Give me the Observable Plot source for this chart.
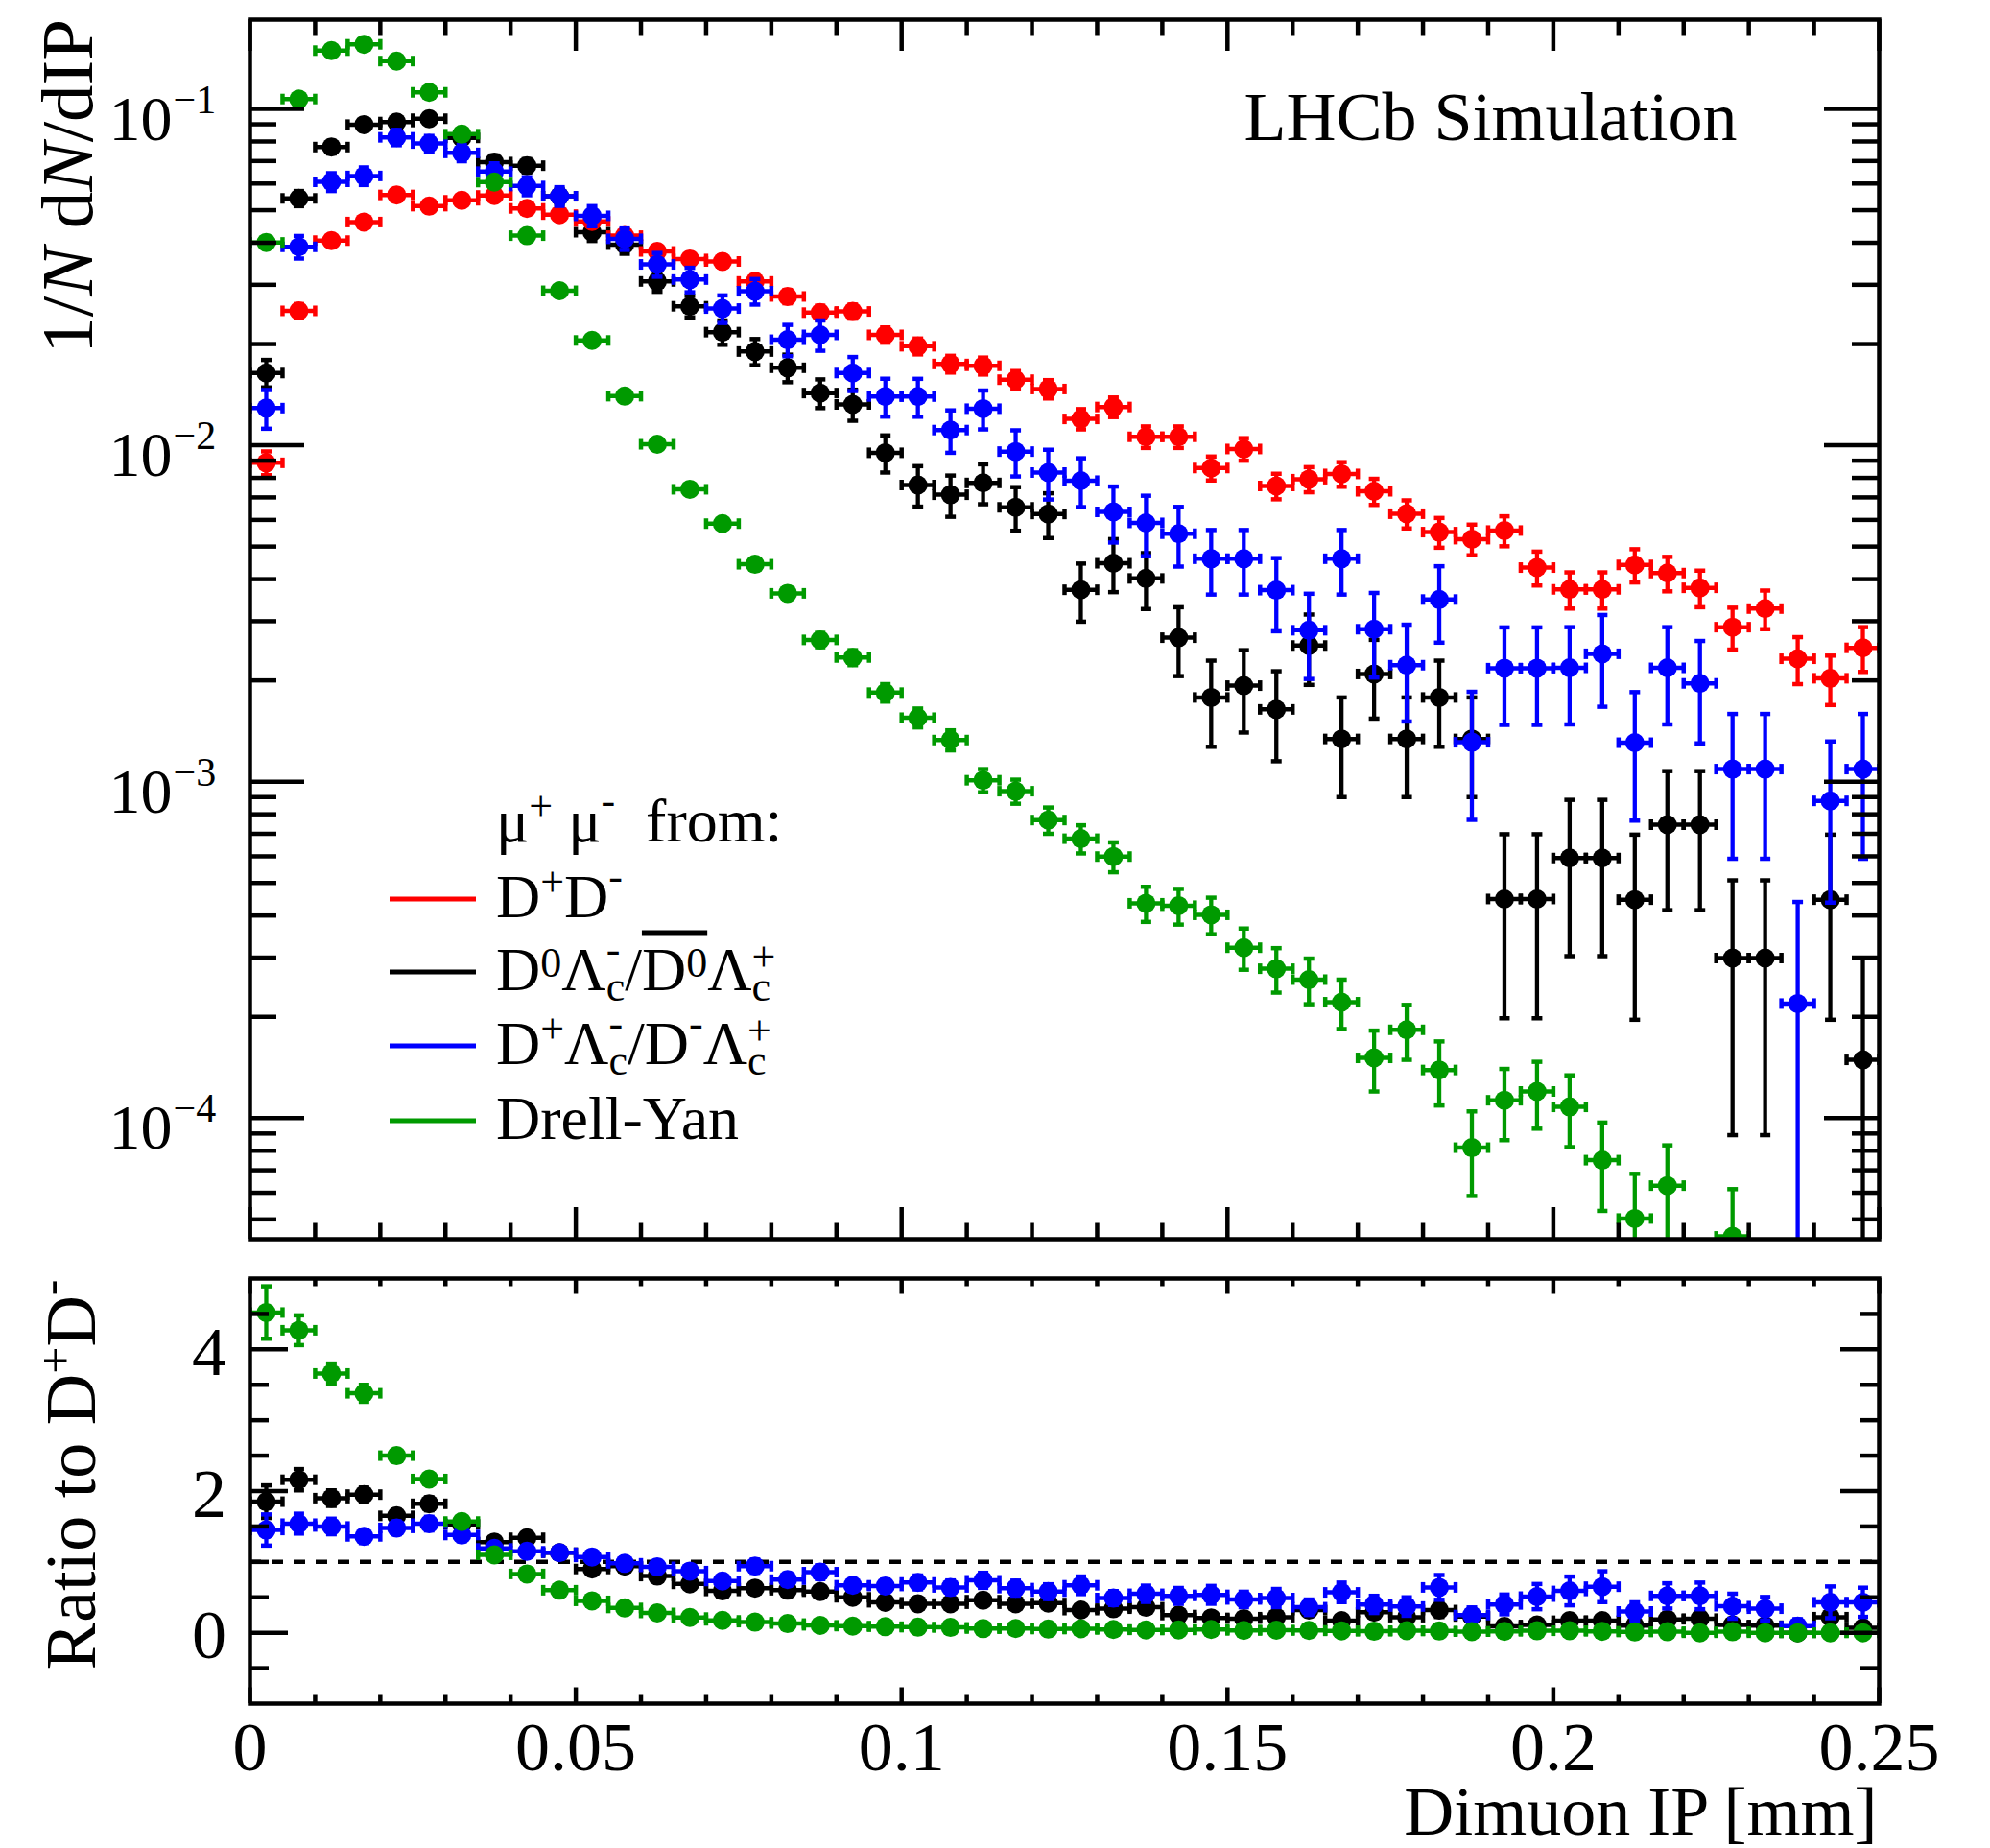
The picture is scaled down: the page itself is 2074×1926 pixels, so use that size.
<!DOCTYPE html>
<html>
<head>
<meta charset="utf-8">
<script src="https://cdn.jsdelivr.net/npm/d3@7"></script>
<script src="https://cdn.jsdelivr.net/npm/@observablehq/plot@0.6"></script>
<style>
html, body { margin: 0; padding: 0; background: #fff; }
#fig { position: relative; width: 2074px; height: 1926px; background: #fff; font-family: "Liberation Serif", "Times New Roman", serif; }
#fig svg { position: absolute; left: 0; overflow: visible; }
</style>
</head>
<body>
<div id="fig"></div>
<script>
// ---------------- DATA ----------------
const binWidth = 0.005;
const binCenters = [0.0025,0.0075,0.0125,0.0175,0.0225,0.0275,0.0325,0.0375,0.0425,0.0475,
  0.0525,0.0575,0.0625,0.0675,0.0725,0.0775,0.0825,0.0875,0.0925,0.0975,
  0.1025,0.1075,0.1125,0.1175,0.1225,0.1275,0.1325,0.1375,0.1425,0.1475,
  0.1525,0.1575,0.1625,0.1675,0.1725,0.1775,0.1825,0.1875,0.1925,0.1975,
  0.2025,0.2075,0.2125,0.2175,0.2225,0.2275,0.2325,0.2375,0.2425,0.2475];

// D+D- (red)
const ddVals = [0.00887,0.0251,0.0406,0.0461,0.0555,0.0514,0.0535,0.0553,0.0506,0.0485,
  0.0463,0.0420,0.0377,0.0358,0.0352,0.0307,0.0277,0.0248,0.0250,0.0213,
  0.0197,0.01745,0.01723,0.01567,0.0147,0.01198,0.0130,0.0106,0.0106,0.00856,
  0.00975,0.00757,0.00793,0.00822,0.0073,0.00626,0.00552,0.00526,0.00558,0.00433,
  0.00373,0.00373,0.00441,0.00417,0.00377,0.00288,0.00327,0.00232,0.00203,0.0025];
const ddErr = [0.00072,0.0012,0.00153,0.00163,0.00179,0.00172,0.00176,0.00179,0.00171,0.00167,
  0.00164,0.00156,0.00148,0.00144,0.00143,0.00133,0.00126,0.0012,0.0012,0.00111,
  0.00107,0.001,0.001,0.00095,0.00092,0.00083,0.00087,0.00078,0.00078,0.0007,
  0.00075,0.00066,0.00068,0.00069,0.00065,0.0006,0.00056,0.00055,0.00057,0.0005,
  0.00046,0.00046,0.0005,0.00049,0.00047,0.00041,0.00043,0.00037,0.00034,0.00038];

// D0 Lc / D0bar Lc (black)
const d0LcVals = [0.0164,0.0542,0.0770,0.0898,0.0914,0.0935,0.0820,0.0695,0.0678,0.0550,
  0.0430,0.0395,0.0307,0.0259,0.0217,0.0190,0.0170,0.0143,0.01323,0.0095,
  0.00762,0.00713,0.00773,0.00654,0.00625,0.00372,0.00446,0.00402,0.00268,0.00178,
  0.00193,0.00164,0.00254,0.00134,0.00209,0.00134,0.00178,0.00134,0.000448,0.000448,
  0.000593,0.000593,0.000446,0.000745,0.000745,0.000299,0.000299,0,0.000446,0.000149];
const d0LcErr = [0.00154,0.0028,0.0033,0.0036,0.0036,0.0037,0.0034,0.0032,0.0031,0.0028,
  0.0025,0.0024,0.0021,0.0019,0.0018,0.0017,0.0016,0.0014,0.0014,0.0012,
  0.00105,0.001,0.00105,0.00097,0.00095,0.00073,0.0008,0.00076,0.00062,0.00051,
  0.00053,0.00049,0.0006,0.00044,0.00055,0.00044,0.00051,0.00044,0.00025,0.00025,
  0.00029,0.00029,0.00025,0.00033,0.00033,0.00021,0.00021,0,0.00025,0.00015];

// D+ Lc / D- Lc (blue)
const dpLcVals = [0.0129,0.0389,0.0607,0.0632,0.0823,0.0789,0.0740,0.0651,0.0590,0.0550,
  0.0481,0.0411,0.0345,0.0311,0.0255,0.0287,0.0206,0.0213,0.0164,0.01397,
  0.01396,0.0111,0.01285,0.00958,0.0083,0.00785,0.00634,0.00588,0.00546,0.0046,
  0.0046,0.00371,0.00282,0.0046,0.00284,0.00222,0.00348,0.00131,0.002175,0.002175,
  0.00218,0.0024,0.001306,0.00218,0.00196,0.00109,0.00109,0.000219,0.000877,0.00109];
const dpLcErr = [0.0017,0.003,0.0037,0.0038,0.0043,0.0042,0.0041,0.0038,0.0036,0.0035,
  0.0033,0.003,0.0028,0.0026,0.0024,0.0025,0.0022,0.0022,0.0019,0.0018,
  0.0018,0.0016,0.0017,0.0015,0.0014,0.0013,0.0012,0.0012,0.0011,0.001,
  0.001,0.00091,0.0008,0.001,0.0008,0.00071,0.00089,0.00054,0.0007,0.0007,
  0.0007,0.00073,0.00054,0.0007,0.00066,0.0005,0.0005,0.00022,0.00044,0.0005];

// Drell-Yan (green)
const dyVals = [0.0401,0.107,0.149,0.1556,0.1387,0.112,0.0841,0.0606,0.0420,0.0288,
  0.0205,0.0140,0.01007,0.0074,0.00585,0.00443,0.00363,0.00264,0.00234,0.00184,
  0.00155,0.00133,0.00101,0.000937,0.000769,0.000677,0.000599,0.000435,0.000428,0.000402,
  0.000321,0.000278,0.000258,0.000221,0.000151,0.000183,0.000139,0.0000817,0.000113,0.000120,
  0.000108,0.000075,0.0000503,0.000063,0,0.0000445,0,0,0,0];
const dyErr = [0.0005,0.00082,0.00097,0.00099,0.00093,0.00084,0.00073,0.00062,0.00051,0.00042,
  0.00036,0.0003,0.00025,0.00022,0.00019,0.00017,0.00015,0.00013,0.00012,0.00011,
  0.0001,0.000091,0.00008,0.000077,0.000069,0.000065,0.000061,0.000052,0.000052,0.00005,
  0.000045,0.000042,0.00004,0.000037,0.000031,0.000034,0.00003,0.000023,0.000027,0.000027,
  0.000026,0.000022,0.000018,0.00002,0,0.000017,0,0,0,0];

// Ratio to D+D- (bottom panel)
const ratioD0Lc = [1.85,2.16,1.90,1.95,1.65,1.82,1.53,1.28,1.34,1.13,
  0.90,0.94,0.80,0.69,0.59,0.63,0.60,0.58,0.50,0.43,
  0.41,0.41,0.46,0.41,0.42,0.32,0.34,0.36,0.25,0.21,
  0.20,0.22,0.32,0.17,0.29,0.22,0.32,0.23,0.09,0.11,
  0.17,0.17,0.10,0.19,0.20,0.11,0.10,0,0.22,0.07];
const ratioD0LcErr = [0.23,0.15,0.11,0.10,0.085,0.092,0.081,0.072,0.077,0.069,
  0.06,0.067,0.062,0.06,0.055,0.059,0.062,0.064,0.061,0.06,
  0.059,0.063,0.067,0.067,0.07,0.065,0.066,0.077,0.062,0.062,
  0.056,0.067,0.081,0.055,0.08,0.073,0.097,0.088,0.046,0.06,
  0.081,0.081,0.058,0.082,0.09,0.074,0.064,0,0.13,0.059];
const ratioDpLc = [1.45,1.54,1.50,1.36,1.48,1.54,1.38,1.19,1.15,1.13,
  1.07,0.98,0.93,0.87,0.73,0.94,0.75,0.855,0.67,0.66,
  0.71,0.64,0.74,0.63,0.58,0.67,0.49,0.55,0.52,0.535,
  0.47,0.49,0.36,0.57,0.40,0.37,0.64,0.25,0.40,0.51,
  0.59,0.65,0.30,0.52,0.52,0.375,0.34,0.095,0.43,0.43];
const ratioDpLcErr = [0.22,0.14,0.11,0.095,0.09,0.096,0.088,0.079,0.082,0.082,
  0.082,0.081,0.084,0.082,0.076,0.093,0.086,0.097,0.085,0.091,
  0.098,0.098,0.106,0.106,0.104,0.124,0.098,0.115,0.112,0.126,
  0.109,0.128,0.109,0.138,0.121,0.13,0.175,0.107,0.139,0.178,
  0.203,0.218,0.129,0.178,0.188,0.176,0.165,0.097,0.224,0.206];
const ratioDY = [4.52,4.27,3.66,3.38,2.50,2.17,1.57,1.10,0.83,0.60,
  0.45,0.35,0.28,0.215,0.175,0.15,0.13,0.105,0.094,0.086,
  0.079,0.076,0.059,0.06,0.052,0.057,0.046,0.041,0.040,0.047,
  0.033,0.037,0.033,0.027,0.021,0.029,0.025,0.016,0.020,0.028,
  0.029,0.020,0.011,0.015,0,0.015,0,0,0,0];
const ratioDYErr = [0.37,0.21,0.14,0.12,0.081,0.074,0.053,0.036,0.029,0.022,
  0.017,0.014,0.012,0.01,0.009,0.01,0.01,0.01,0.01,0.01,
  0.01,0.01,0.01,0.01,0.01,0.01,0.01,0.01,0.01,0.01,
  0.008,0.008,0.008,0.008,0.008,0.008,0.008,0.008,0.008,0.008,
  0.008,0.008,0.008,0.008,0,0.006,0,0,0,0];

// Axis ticks / labels
const xTickValues = [0, 0.05, 0.1, 0.15, 0.2, 0.25];
const xTickLabels = ["0", "0.05", "0.1", "0.15", "0.2", "0.25"];
const yDecades = [1e-1, 1e-2, 1e-3, 1e-4];
const yDecadeExps = ["\u22121", "\u22122", "\u22123", "\u22124"];
const ratioTickValues = [0, 2, 4];
const ratioTickLabels = ["0", "2", "4"];
const xTitle = "Dimuon IP [mm]";
const lhcbLabel = "LHCb Simulation";

// ---------------- STYLE / LAYOUT ----------------
const FONT = "Liberation Serif";
const C = { red: "#ff0000", black: "#000000", blue: "#0000ff", green: "#009a00" };
const W = 2074;
const mL = 260, mR = 116;
const frameW = W - mL - mR;
const topH = 1300, topMT = 20, topMB = 9;
const topFrameH = topH - topMT - topMB;
const botTop = 1300, botH = 626, botMT = 32, botMB = 151;
const botFrameH = botH - botMT - botMB;
const yMin = 4.365e-5, yMax = 0.1842;

const vCap = { draw(ctx, size) { const r = Math.sqrt(size / Math.PI); ctx.moveTo(0, -r); ctx.lineTo(0, r); } };
const hCap = { draw(ctx, size) { const r = Math.sqrt(size / Math.PI); ctx.moveTo(-r, 0); ctx.lineTo(r, 0); } };

function rowsOf(vals, errs, keepZero) {
  return binCenters.map((x, i) => ({ x, v: vals[i], e: errs[i] })).filter(d => keepZero ? true : d.v > 0);
}

function seriesMarks(rows, color, isLog) {
  const half = binWidth / 2;
  const low = d => isLog ? (d.v - d.e > 0 ? d.v - d.e : yMin * 0.1) : d.v - d.e;
  const withErr = rows.filter(d => d.e > 0);
  const capStyle = { stroke: color, strokeWidth: 4.5, fill: "none", clip: true };
  return [
    Plot.ruleY(rows, { y: "v", x1: d => d.x - half, x2: d => d.x + half, stroke: color, strokeWidth: 4.5, clip: true }),
    Plot.dot(rows, { x: d => d.x - half, y: "v", symbol: vCap, r: 5.5, ...capStyle }),
    Plot.dot(rows, { x: d => d.x + half, y: "v", symbol: vCap, r: 5.5, ...capStyle }),
    Plot.ruleX(withErr, { x: "x", y1: low, y2: d => d.v + d.e, stroke: color, strokeWidth: 4.3, clip: true }),
    Plot.dot(withErr.filter(d => !isLog || d.v - d.e > 0), { x: "x", y: d => d.v - d.e, symbol: hCap, r: 5.5, ...capStyle }),
    Plot.dot(withErr, { x: "x", y: d => d.v + d.e, symbol: hCap, r: 5.5, ...capStyle }),
    Plot.dot(rows, { x: "x", y: "v", r: 10, fill: color, clip: true })
  ];
}

const isMajorX = v => Math.abs(v * 20 - Math.round(v * 20)) < 1e-9;
const xMinor = d3.range(0, 0.2501, 0.01).filter(v => !isMajorX(v));
const yMinorTop = [];
for (let e = -5; e <= -1; e++) for (let k = 2; k <= 9; k++) { const v = k * Math.pow(10, e); if (v > yMin && v < yMax) yMinorTop.push(v); }
const ratioMinor = [-0.5, 0.5, 1, 1.5, 2.5, 3, 3.5, 4.5];

function frameTicks(H, xMajLen, xMinLen, yMaj, yMajLen, yMin_, yMinLen) {
  const s = { stroke: "black", strokeWidth: 4.5 };
  return [
    Plot.tickX(xTickValues, { x: d => d, insetTop: H - xMajLen, ...s }),
    Plot.tickX(xTickValues, { x: d => d, insetBottom: H - xMajLen, ...s }),
    Plot.tickX(xMinor, { x: d => d, insetTop: H - xMinLen, ...s }),
    Plot.tickX(xMinor, { x: d => d, insetBottom: H - xMinLen, ...s }),
    Plot.tickY(yMaj, { y: d => d, insetRight: frameW - yMajLen, ...s }),
    Plot.tickY(yMaj, { y: d => d, insetLeft: frameW - yMajLen, ...s }),
    Plot.tickY(yMin_, { y: d => d, insetRight: frameW - yMinLen, ...s }),
    Plot.tickY(yMin_, { y: d => d, insetLeft: frameW - yMinLen, ...s })
  ];
}

// ---------------- TOP PANEL ----------------
const topSeries = [
  rowsOf(d0LcVals, d0LcErr), rowsOf(ddVals, ddErr), rowsOf(dpLcVals, dpLcErr), rowsOf(dyVals, dyErr)
];
const topColors = [C.black, C.red, C.blue, C.green];

const topPlot = Plot.plot({
  width: W, height: topH,
  marginLeft: mL, marginRight: mR, marginTop: topMT, marginBottom: topMB,
  style: { fontFamily: FONT, background: "white", overflow: "visible" },
  x: { domain: [0, 0.25], axis: null },
  y: { type: "log", domain: [yMin, yMax], axis: null },
  marks: [
    ...topSeries.flatMap((rows, i) => seriesMarks(rows, topColors[i], true)),
    ...frameTicks(topFrameH, 33, 16.5, yDecades, 57, yMinorTop, 28),
    Plot.text(yDecades, { y: d => d, frameAnchor: "left", text: () => "10", textAnchor: "end", lineAnchor: "bottom", dx: -81, dy: 32, fontSize: 66 }),
    Plot.text(yDecades, { y: d => d, frameAnchor: "left", text: (d, i) => yDecadeExps[i], textAnchor: "start", lineAnchor: "bottom", dx: -80, dy: 4, fontSize: 42 }),
    Plot.text([lhcbLabel], { frameAnchor: "top-right", text: d => d, textAnchor: "end", lineAnchor: "bottom", dx: -148, dy: 125, fontSize: 72 }),
    Plot.frame({ stroke: "black", strokeWidth: 4.5 })
  ]
});

// ---------------- BOTTOM PANEL ----------------
const botSeries = [
  rowsOf(ratioD0Lc, ratioD0LcErr, true), rowsOf(ratioDpLc, ratioDpLcErr, true), rowsOf(ratioDY, ratioDYErr, true)
];
const botColors = [C.black, C.blue, C.green];

const botPlot = Plot.plot({
  width: W, height: botH,
  marginLeft: mL, marginRight: mR, marginTop: botMT, marginBottom: botMB,
  style: { fontFamily: FONT, background: "transparent", overflow: "visible" },
  x: { domain: [0, 0.25], axis: null },
  y: { domain: [-1, 5], axis: null },
  marks: [
    Plot.ruleY([1], { stroke: "black", strokeWidth: 4.5, strokeDasharray: "12,11" }),
    ...botSeries.flatMap((rows, i) => seriesMarks(rows, botColors[i], false)),
    ...frameTicks(botFrameH, 16.5, 8.5, ratioTickValues, 40, ratioMinor, 20),
    Plot.text(ratioTickValues, { y: d => d, frameAnchor: "left", text: (d, i) => ratioTickLabels[i], textAnchor: "end", lineAnchor: "bottom", dx: -24.5, dy: 26.5, fontSize: 72 }),
    Plot.text(xTickValues, { x: d => d, frameAnchor: "bottom", text: (d, i) => xTickLabels[i], lineAnchor: "bottom", dy: 69.6, fontSize: 72 }),
    Plot.text([xTitle], { frameAnchor: "bottom-right", text: d => d, textAnchor: "end", lineAnchor: "bottom", dx: -2, dy: 136, fontSize: 72 }),
    Plot.frame({ stroke: "black", strokeWidth: 4.5 })
  ]
});

const fig = document.getElementById("fig");
topPlot.style.top = "0px";
botPlot.style.top = botTop + "px";
fig.appendChild(topPlot);
fig.appendChild(botPlot);

// ---------------- RICH TEXT (titles, legend) ----------------
const svgTop = d3.select(topPlot);
const svgBot = d3.select(botPlot);

// Top y-axis title
{
  const t = svgTop.append("text")
    .attr("transform", "translate(96,20) rotate(-90)")
    .attr("text-anchor", "end").attr("font-size", 77).attr("font-family", FONT)
    .style("white-space", "pre").attr("fill", "black");
  t.append("tspan").text("1/");
  t.append("tspan").attr("font-style", "italic").text("N");
  t.append("tspan").text(" d");
  t.append("tspan").attr("font-style", "italic").text("N");
  t.append("tspan").text("/dIP");
}
// Bottom y-axis title
{
  const t = svgBot.append("text")
    .attr("transform", `translate(99,${1333.5 - botTop}) rotate(-90)`)
    .attr("text-anchor", "end").attr("font-size", 74).attr("font-family", FONT)
    .style("white-space", "pre").attr("fill", "black");
  t.append("tspan").text("Ratio to D");
  t.append("tspan").attr("font-size", 50).attr("dy", -24).text("+");
  t.append("tspan").attr("dy", 24).text("D");
  t.append("tspan").attr("font-size", 50).attr("dy", -30).text("-");
}

function richText(g, x, y, parts, baseSize) {
  let cx = x, prevX = x, prevW = 0;
  const pos = [];
  for (const p of parts) {
    const sx = p.stack ? prevX : cx;
    const t = g.append("text")
      .attr("x", sx).attr("y", y + (p.dy || 0))
      .attr("text-anchor", "start")
      .attr("font-size", p.size || baseSize).attr("font-family", FONT)
      .style("white-space", "pre").attr("fill", "black").text(p.t);
    const w = t.node().getComputedTextLength();
    pos.push({ x0: sx, x1: sx + w });
    if (p.stack) { prevW = Math.max(prevW, w); cx = prevX + prevW; }
    else { prevX = sx; prevW = w; cx = sx + w; }
  }
  return pos;
}

const lg = svgTop.append("g").attr("text-anchor", "start");
const LX = 517, S = 64, s = 44;
richText(lg, LX, 877, [
  { t: "\u03bc" }, { t: "+", size: s, dy: -22 }, { t: " \u03bc" }, { t: "-", size: s, dy: -28 }, { t: "  from:" }
], S);

const legendRows = [
  { color: C.red, base: 956, parts: [{ t: "D" }, { t: "+", size: s, dy: -22 }, { t: "D" }, { t: "-", size: s, dy: -28 }] },
  { color: C.black, base: 1032, parts: [
      { t: "D" }, { t: "0", size: s, dy: -14 }, { t: "\u039b" }, { t: "c", size: s, dy: 11 }, { t: "-", size: s, dy: -28, stack: true },
      { t: "/" }, { t: "D" }, { t: "0", size: s, dy: -14 }, { t: "\u039b" }, { t: "c", size: s, dy: 11 }, { t: "+", size: s, dy: -20, stack: true }
    ], overline: [6, 7] },
  { color: C.blue, base: 1109, parts: [
      { t: "D" }, { t: "+", size: s, dy: -22 }, { t: "\u039b" }, { t: "c", size: s, dy: 11 }, { t: "-", size: s, dy: -28, stack: true },
      { t: "/" }, { t: "D" }, { t: "-", size: s, dy: -28 }, { t: "\u039b" }, { t: "c", size: s, dy: 11 }, { t: "+", size: s, dy: -20, stack: true }
    ] },
  { color: C.green, base: 1187, parts: [{ t: "Drell-Yan" }] }
];
for (const r of legendRows) {
  lg.append("line").attr("x1", 406).attr("x2", 496).attr("y1", r.base - 19).attr("y2", r.base - 19)
    .attr("stroke", r.color).attr("stroke-width", 5);
  const pos = richText(lg, LX, r.base, r.parts, S);
  if (r.overline) {
    const a = pos[r.overline[0]], b = pos[r.overline[1]];
    lg.append("line").attr("x1", a.x0).attr("x2", b.x1).attr("y1", r.base - 60).attr("y2", r.base - 60)
      .attr("stroke", "black").attr("stroke-width", 5);
  }
}
</script>
</body>
</html>
